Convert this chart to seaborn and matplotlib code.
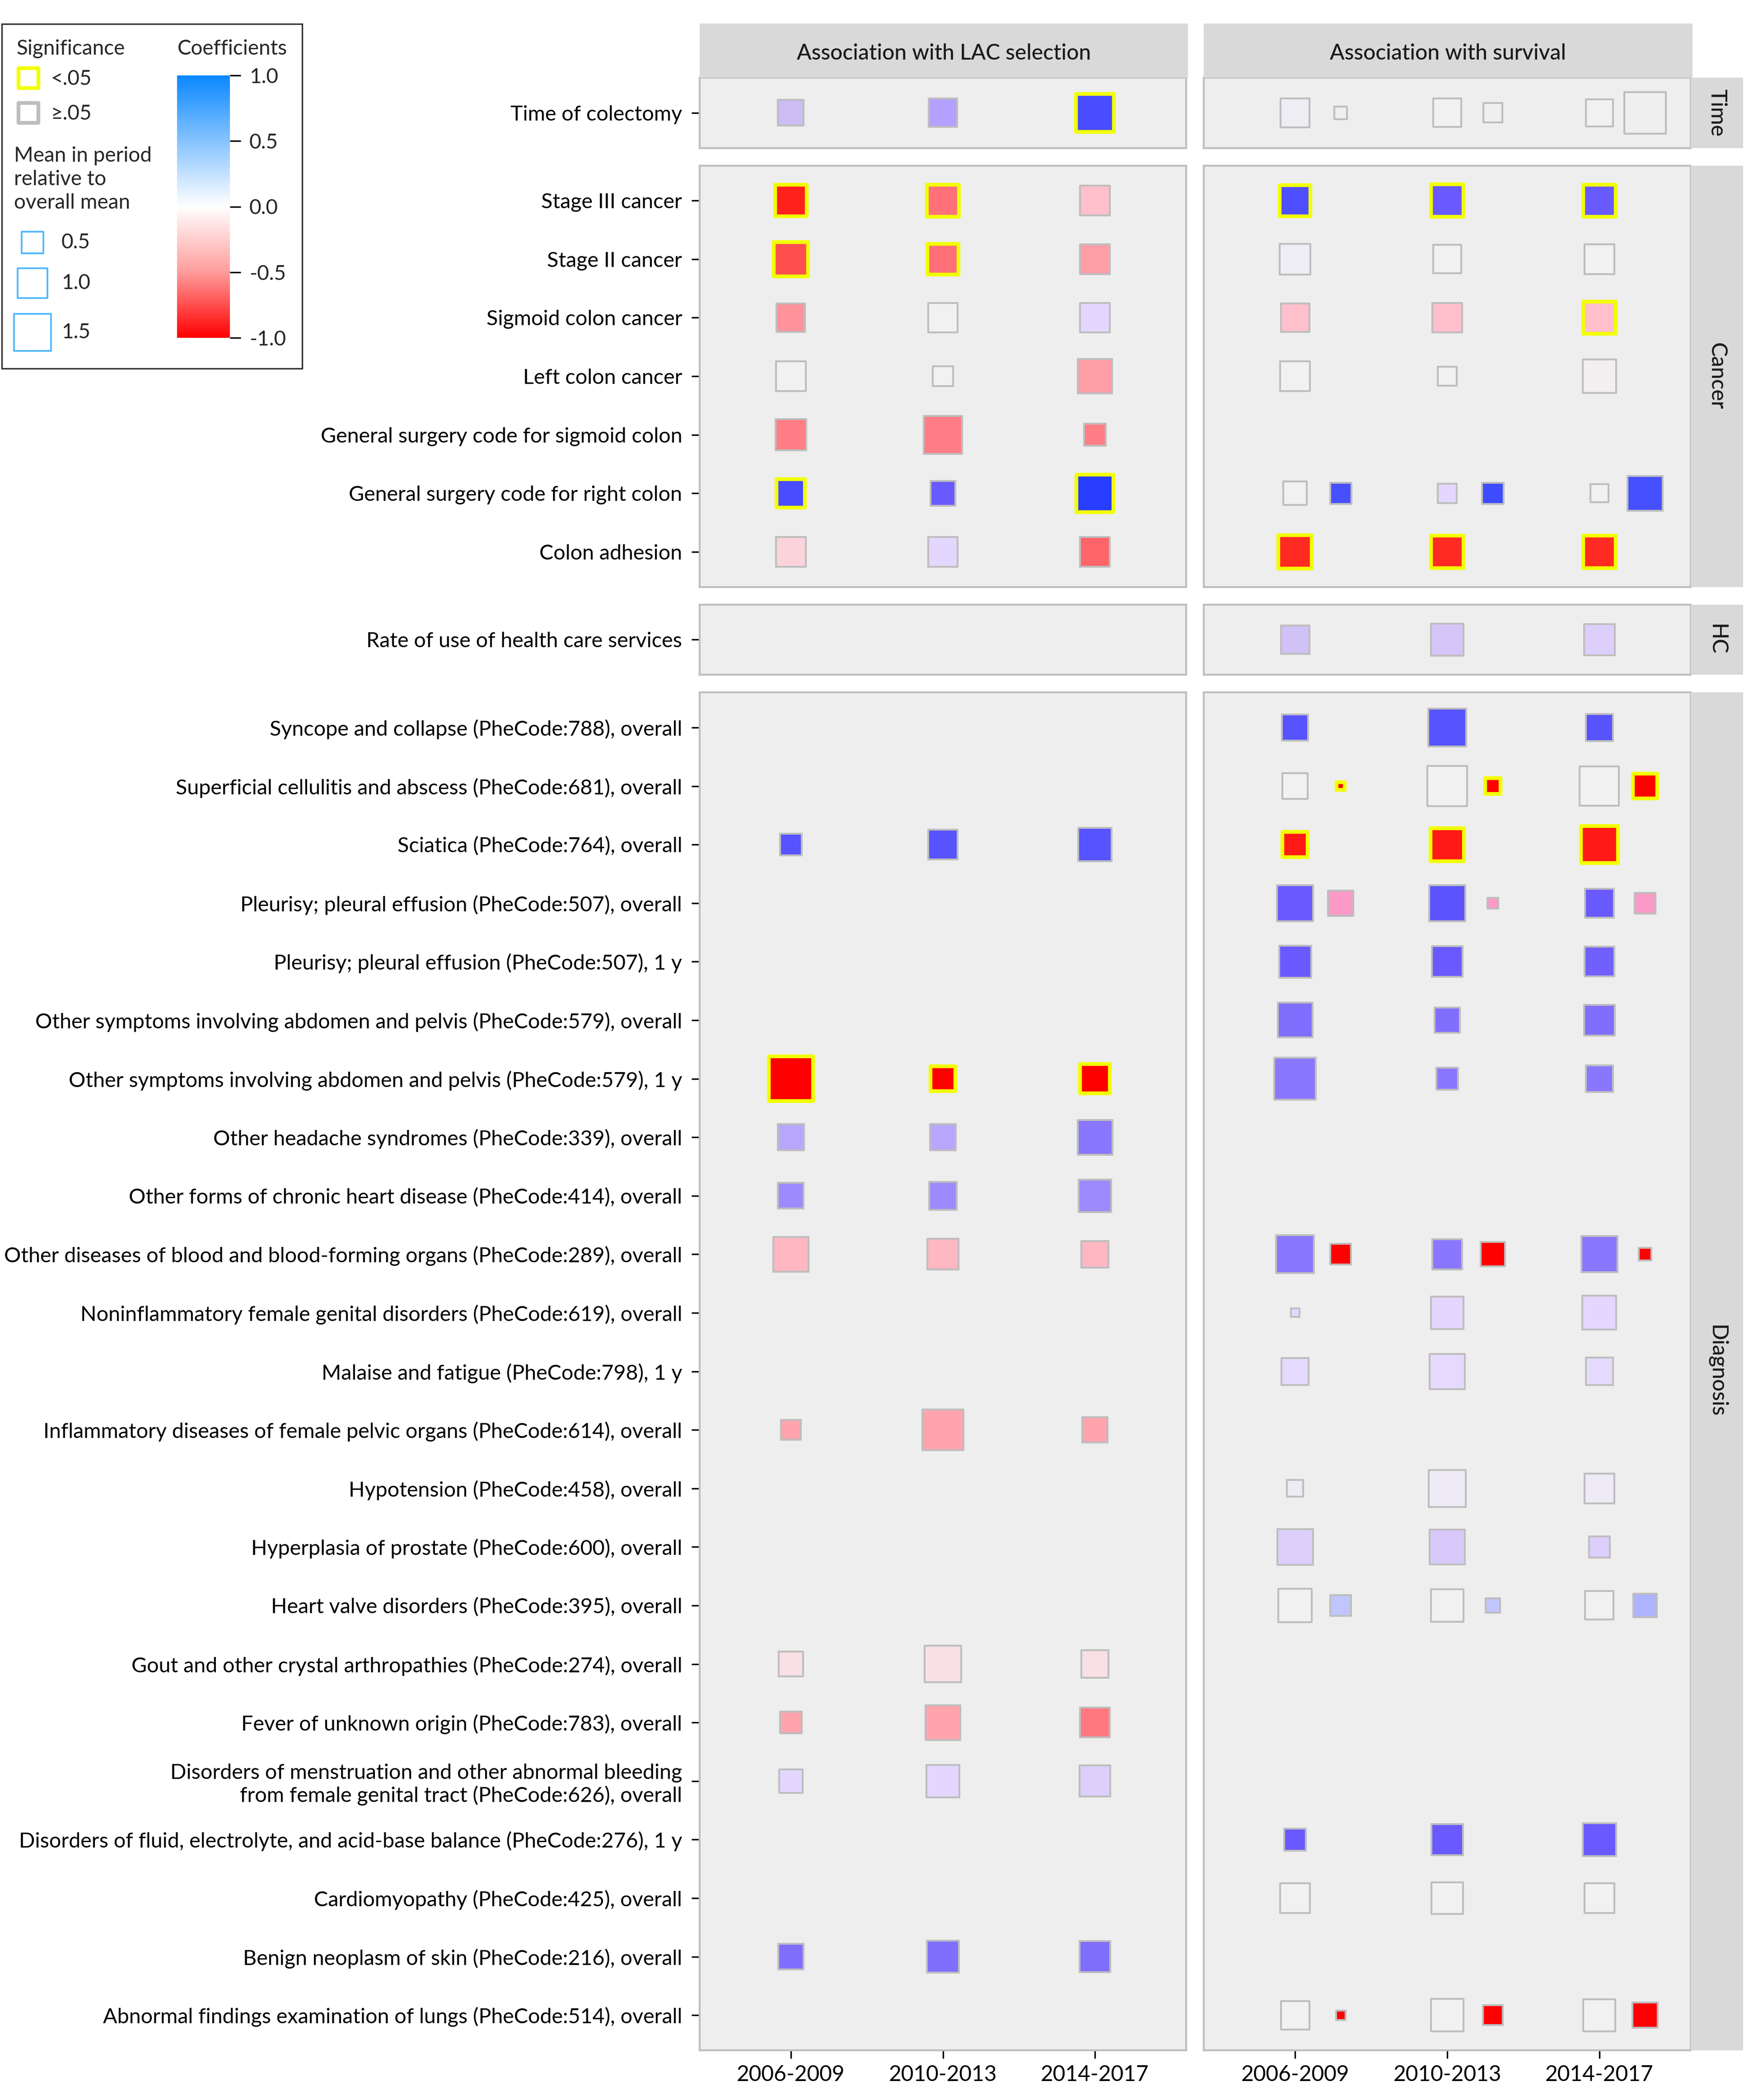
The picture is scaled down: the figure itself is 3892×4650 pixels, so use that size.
import numpy as np
import pandas as pd
import seaborn as sns
import matplotlib.pyplot as plt
from matplotlib.colors import LinearSegmentedColormap, Normalize
from matplotlib.cm import ScalarMappable
from matplotlib.patches import Rectangle

sns.set_theme(style="ticks")
plt.rcParams['font.family'] = ['Lato', 'DejaVu Sans']

periods = ['2006-2009', '2010-2013', '2014-2017']
groups = ['Time', 'Cancer', 'HC', 'Diagnosis']

variables = [
    'Time of colectomy',
    'Stage III cancer',
    'Stage II cancer',
    'Sigmoid colon cancer',
    'Left colon cancer',
    'General surgery code for sigmoid colon',
    'General surgery code for right colon',
    'Colon adhesion',
    'Rate of use of health care services',
    'Syncope and collapse (PheCode:788), overall',
    'Superficial cellulitis and abscess (PheCode:681), overall',
    'Sciatica (PheCode:764), overall',
    'Pleurisy; pleural effusion (PheCode:507), overall',
    'Pleurisy; pleural effusion (PheCode:507), 1 y',
    'Other symptoms involving abdomen and pelvis (PheCode:579), overall',
    'Other symptoms involving abdomen and pelvis (PheCode:579), 1 y',
    'Other headache syndromes (PheCode:339), overall',
    'Other forms of chronic heart disease (PheCode:414), overall',
    'Other diseases of blood and blood-forming organs (PheCode:289), overall',
    'Noninflammatory female genital disorders (PheCode:619), overall',
    'Malaise and fatigue (PheCode:798), 1 y',
    'Inflammatory diseases of female pelvic organs (PheCode:614), overall',
    'Hypotension (PheCode:458), overall',
    'Hyperplasia of prostate (PheCode:600), overall',
    'Heart valve disorders (PheCode:395), overall',
    'Gout and other crystal arthropathies (PheCode:274), overall',
    'Fever of unknown origin (PheCode:783), overall',
    'Disorders of menstruation and other abnormal bleeding\nfrom female genital tract (PheCode:626), overall',
    'Disorders of fluid, electrolyte, and acid-base balance (PheCode:276), 1 y',
    'Cardiomyopathy (PheCode:425), overall',
    'Benign neoplasm of skin (PheCode:216), overall',
    'Abnormal findings examination of lungs (PheCode:514), overall',
]
var_group = ['Time'] + ['Cancer'] * 7 + ['HC'] + ['Diagnosis'] * 23

# association with LAC selection: coefficient, mean relative to overall mean, p<.05
lac_coef = [
    [0.3, 0.45, 0.78],
    [-0.88, -0.6, -0.3], [-0.75, -0.6, -0.42], [-0.45, 0.0, 0.15], [0.0, 0.0, -0.42],
    [-0.52, -0.52, -0.52], [0.78, 0.65, 0.95], [-0.2, 0.15, -0.65],
    None,
    None, None, [0.72, 0.72, 0.72], None, None, None, [-1.0, -1.0, -1.0],
    [0.42, 0.42, 0.55], [0.5, 0.5, 0.5], [-0.33, -0.33, -0.33], None, None,
    [-0.4, -0.4, -0.4], None, None, None, [-0.12, -0.12, -0.12], [-0.4, -0.4, -0.55],
    [0.15, 0.15, 0.2], None, None, [0.58, 0.58, 0.58], None,
]
lac_rel = [
    [0.73, 0.89, 1.58],
    [1.09, 1.15, 0.97], [1.3, 1.06, 0.97], [0.89, 0.97, 0.97], [0.97, 0.44, 1.3],
    [1.06, 1.6, 0.53], [0.89, 0.69, 1.54], [0.97, 0.97, 0.97],
    None,
    None, None, [0.52, 0.97, 1.24], None, None, None, [2.17, 0.68, 0.97],
    [0.74, 0.74, 1.33], [0.73, 0.86, 1.18], [1.35, 1.05, 0.79], None, None,
    [0.43, 1.83, 0.71], None, None, None, [0.66, 1.47, 0.83], [0.52, 1.33, 0.97],
    [0.61, 1.17, 1.06], None, None, [0.71, 1.15, 1.06], None,
]
lac_sig = [
    [0, 0, 1],
    [1, 1, 0], [1, 1, 0], [0, 0, 0], [0, 0, 0],
    [0, 0, 0], [1, 0, 1], [0, 0, 0],
    None,
    None, None, [0, 0, 0], None, None, None, [1, 1, 1],
    [0, 0, 0], [0, 0, 0], [0, 0, 0], None, None,
    [0, 0, 0], None, None, None, [0, 0, 0], [0, 0, 0],
    [0, 0, 0], None, None, [0, 0, 0], None,
]

# association with survival
surv_coef = [
    [0.03, 0.0, 0.01],
    [0.75, 0.65, 0.65], [0.03, 0.0, 0.0], [-0.3, -0.3, -0.3], [0.0, 0.0, -0.02],
    None, [0.0, 0.15, 0.0], [-0.85, -0.85, -0.85],
    [0.28, 0.25, 0.2],
    [0.72, 0.72, 0.72], [0.0, 0.0, 0.0], [-0.9, -0.9, -0.9], [0.65, 0.7, 0.65],
    [0.65, 0.65, 0.63], [0.58, 0.58, 0.58], [0.55, 0.55, 0.55],
    None, None, [0.55, 0.55, 0.55], [0.15, 0.15, 0.15], [0.14, 0.14, 0.14],
    None, [0.04, 0.04, 0.04], [0.2, 0.23, 0.2], [0.0, 0.0, 0.0], None, None,
    None, [0.65, 0.65, 0.65], [0.0, 0.0, 0.0], None, [0.0, 0.0, 0.0],
]
surv_rel = [
    [0.92, 0.89, 0.81],
    [1.06, 1.18, 1.15], [1.06, 0.89, 0.97], [0.89, 0.97, 1.15], [0.97, 0.41, 1.24],
    None, [0.6, 0.41, 0.36], [1.24, 1.15, 1.15],
    [0.89, 1.15, 1.06],
    [0.76, 1.6, 0.8], [0.72, 1.75, 1.7], [0.72, 1.2, 1.5], [1.44, 1.44, 0.92],
    [1.13, 1.04, 0.97], [1.33, 0.7, 1.06], [1.93, 0.54, 0.8],
    None, None, [1.58, 1.0, 1.44], [0.08, 1.18, 1.27], [0.81, 1.37, 0.83],
    None, [0.3, 1.51, 0.97], [1.4, 1.35, 0.49], [1.21, 1.18, 0.89], None, None,
    None, [0.53, 1.09, 1.21], [0.97, 1.09, 0.97], None, [0.89, 1.18, 1.13],
]
surv_sig = [
    [0, 0, 0],
    [1, 1, 1], [0, 0, 0], [0, 0, 1], [0, 0, 0],
    None, [0, 0, 0], [1, 1, 1],
    [0, 0, 0],
    [0, 0, 0], [0, 0, 0], [1, 1, 1], [0, 0, 0],
    [0, 0, 0], [0, 0, 0], [0, 0, 0],
    None, None, [0, 0, 0], [0, 0, 0], [0, 0, 0],
    None, [0, 0, 0], [0, 0, 0], [0, 0, 0], None, None,
    None, [0, 0, 0], [0, 0, 0], None, [0, 0, 0],
]

# second survival term, drawn to the right of each period
surv2_coef = {
    'Time of colectomy': [0.0, 0.0, 0.0],
    'General surgery code for right colon': [0.8, 0.85, 0.8],
    'Superficial cellulitis and abscess (PheCode:681), overall': [-1.0, -1.0, -1.0],
    'Pleurisy; pleural effusion (PheCode:507), overall': [-0.4, -0.4, -0.4],
    'Other diseases of blood and blood-forming organs (PheCode:289), overall': [-1.0, -1.0, -1.0],
    'Heart valve disorders (PheCode:395), overall': [0.25, 0.25, 0.35],
    'Abnormal findings examination of lungs (PheCode:514), overall': [-1.0, -1.0, -1.0],
}
surv2_rel = {
    'Time of colectomy': [0.18, 0.41, 1.92],
    'General surgery code for right colon': [0.5, 0.5, 1.34],
    'Superficial cellulitis and abscess (PheCode:681), overall': [0.07, 0.27, 0.66],
    'Pleurisy; pleural effusion (PheCode:507), overall': [0.7, 0.13, 0.47],
    'Other diseases of blood and blood-forming organs (PheCode:289), overall': [0.47, 0.66, 0.18],
    'Heart valve disorders (PheCode:395), overall': [0.47, 0.22, 0.6],
    'Abnormal findings examination of lungs (PheCode:514), overall': [0.1, 0.43, 0.72],
}
surv2_sig = {
    'Time of colectomy': [0, 0, 0],
    'General surgery code for right colon': [0, 0, 0],
    'Superficial cellulitis and abscess (PheCode:681), overall': [1, 1, 1],
    'Pleurisy; pleural effusion (PheCode:507), overall': [0, 0, 0],
    'Other diseases of blood and blood-forming organs (PheCode:289), overall': [0, 0, 0],
    'Heart valve disorders (PheCode:395), overall': [0, 0, 0],
    'Abnormal findings examination of lungs (PheCode:514), overall': [0, 0, 0],
}

# colours
coef_cmap = LinearSegmentedColormap.from_list('coef', [
    (0.0, '#FF0000'), (0.075, '#FF2A22'), (0.125, '#FF5050'), (0.2, '#FF7078'),
    (0.25, '#FF8088'), (0.3, '#FFA5AF'), (0.35, '#FFC0CC'), (0.425, '#FADCE2'),
    (0.5, '#F2F2F2'), (0.575, '#E4D8FF'), (0.65, '#CDBDF5'), (0.725, '#B3A0FF'),
    (0.775, '#8B78FF'), (0.825, '#6A5BFF'), (0.875, '#5050FF'), (0.925, '#3A45FF'),
    (1.0, '#1E3AFF')])
second_cmap = LinearSegmentedColormap.from_list('coef2', [
    (0.0, '#FF0000'), (0.3, '#FC9BC8'), (0.5, '#F0F0F0'), (0.65, '#B8BEFF'),
    (0.9, '#4850FF'), (1.0, '#2040FF')])
legend_cmap = LinearSegmentedColormap.from_list('leg', [
    (0.0, '#FF0000'), (0.25, '#FF9C9C'), (0.5, '#FFFFFF'), (0.75, '#86C3FF'), (1.0, '#0A88FF')])
YELLOW = '#F2FF00'
GREY = '#BEBEBE'
PANEL = '#EEEEEE'
STRIP = '#D9D9D9'
S_UNIT = 256  # marker area (pt^2) for relative mean 1.0


def long_table(coef, rel, sig, names):
    recs = []
    for name, c, r, s in zip(names, coef, rel, sig):
        if c is None:
            continue
        for j in range(len(periods)):
            recs.append(dict(variable=name, group=var_group[variables.index(name)],
                             period=j, coef=c[j], rel=r[j], sig=s[j]))
    return pd.DataFrame(recs)


lac_df = long_table(lac_coef, lac_rel, lac_sig, variables)
surv_df = long_table(surv_coef, surv_rel, surv_sig, variables)
names2 = list(surv2_coef)
surv2_df = long_table([surv2_coef[k] for k in names2], [surv2_rel[k] for k in names2],
                      [surv2_sig[k] for k in names2], names2)

W, H = 3892, 4650
fig = plt.figure(figsize=(W / 300, H / 300), dpi=300)
fig.patch.set_facecolor('white')


def rect(x0, y0, x1, y1):
    return [x0 / W, 1 - y1 / H, (x1 - x0) / W, (y1 - y0) / H]


col_px = [(1549, 2626), (2665, 3743)]
strip_x = (3743, 3859)
unit, gap, top = 129.6, 39, 172
panels = [
    ('Association with LAC selection', [(lac_df, coef_cmap, 0.0)]),
    ('Association with survival', [(surv_df, coef_cmap, 0.0), (surv2_df, second_cmap, 0.3)]),
]

y0 = top
for gi, grp in enumerate(groups):
    names = [v for v, g in zip(variables, var_group) if g == grp]
    n = len(names)
    y1 = y0 + (n + 0.2) * unit
    for ci, (title, layers) in enumerate(panels):
        x0, x1 = col_px[ci]
        ax = fig.add_axes(rect(x0, y0, x1, y1))
        ax.set_facecolor(PANEL)
        for df, cmap, dx in layers:
            sub = df[df['group'] == grp].copy()
            if sub.empty:
                continue
            sub['x'] = sub['period'] + 1 + dx
            sub['y'] = sub['variable'].map({nm: i for i, nm in enumerate(names)})
            for sig_val, ec, lw in [(0, GREY, 1.0), (1, YELLOW, 2.0)]:
                part = sub[sub['sig'] == sig_val]
                if part.empty:
                    continue
                sns.scatterplot(data=part, x='x', y='y', hue='coef', palette=cmap,
                                hue_norm=(-1, 1), size='rel', sizes=(0, 2.5 * S_UNIT),
                                size_norm=(0, 2.5), marker='s', edgecolor=ec,
                                linewidth=lw, legend=False, ax=ax, zorder=3)
        ax.set_xlim(0.4, 3.6)
        ax.set_ylim(n - 1 + 0.6, -0.6)
        ax.set_xlabel('')
        ax.set_ylabel('')
        for sp in ax.spines.values():
            sp.set_color(GREY)
            sp.set_linewidth(1.0)
        if ci == 0:
            ax.set_yticks(range(n))
            ax.set_yticklabels(names)
        else:
            ax.set_yticks([])
        if gi == len(groups) - 1:
            ax.set_xticks([1, 2, 3])
            ax.set_xticklabels(periods)
        else:
            ax.set_xticks([])
        ax.tick_params(axis='both', length=4.3, width=0.8, color='black',
                       labelsize=11.2, labelcolor='black', pad=5.0)
        ax.tick_params(axis='x', labelsize=11.5, pad=3.5)

        if gi == 0:
            sax = fig.add_axes(rect(x0, 52, x1 + 4, top))
            sax.set_facecolor(STRIP)
            sax.set_xticks([])
            sax.set_yticks([])
            for sp in sax.spines.values():
                sp.set_visible(False)
            sax.text(0.5, 0.45, title, ha='center', va='center', fontsize=11.5,
                     fontweight='medium', color='#1A1A1A', transform=sax.transAxes)

    rax = fig.add_axes(rect(strip_x[0], y0, strip_x[1], y1))
    rax.set_facecolor(STRIP)
    rax.set_xticks([])
    rax.set_yticks([])
    for sp in rax.spines.values():
        sp.set_visible(False)
    rax.text(0.5, 0.5, grp, ha='center', va='center', rotation=270, fontsize=11.5,
             fontweight='medium', color='#1A1A1A', transform=rax.transAxes)
    y0 = y1 + gap

# legend block
lax = fig.add_axes(rect(0, 0, 700, 830))
lax.set_xlim(0, 700)
lax.set_ylim(830, 0)
lax.axis('off')
lax.add_patch(Rectangle((4, 53), 665, 763, fill=False, edgecolor='#333333', linewidth=0.8))
lax.text(37, 108, 'Significance', ha='left', va='center', fontsize=11)
lax.scatter([63], [173], s=112, marker='s', facecolor='white', edgecolor=YELLOW, linewidth=2.0)
lax.text(112, 175, '<.05', ha='left', va='center', fontsize=11)
lax.scatter([63], [250], s=112, marker='s', facecolor='white', edgecolor=GREY, linewidth=2.0)
lax.text(112, 252, '≥.05', ha='left', va='center', fontsize=11)
lax.text(31, 397, 'Mean in period\nrelative to\noverall mean', ha='left', va='center',
         fontsize=11, linespacing=1.3)
for val, yy in zip([0.5, 1.0, 1.5], [537, 627, 736]):
    lax.scatter([72], [yy], s=S_UNIT * val, marker='s', facecolor='white',
                edgecolor='#4DB8FF', linewidth=0.9)
    lax.text(136, yy, f'{val:.1f}', ha='left', va='center', fontsize=11)
lax.text(393, 108, 'Coefficients', ha='left', va='center', fontsize=11)

cax = fig.add_axes(rect(392, 167, 509, 748))
cb = fig.colorbar(ScalarMappable(norm=Normalize(-1, 1), cmap=legend_cmap), cax=cax)
cb.outline.set_visible(False)
cb.set_ticks([-1, -0.5, 0, 0.5, 1])
cb.set_ticklabels(['-1.0', '-0.5', '0.0', '0.5', '1.0'])
cax.tick_params(length=5.8, width=0.8, color='black', labelsize=11, pad=4.5)

fig.savefig('out.png', dpi=300, facecolor='white')
